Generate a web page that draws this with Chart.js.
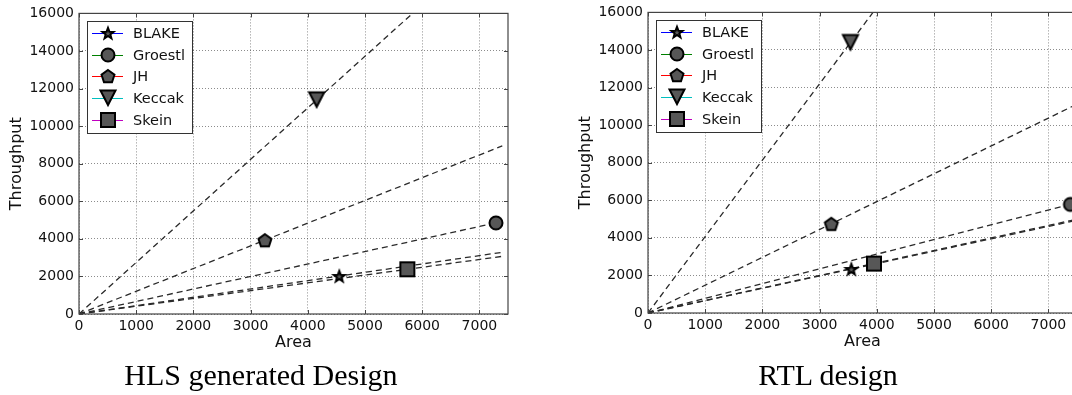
<!DOCTYPE html>
<html>
<head>
<meta charset="utf-8">
<script src="https://cdn.jsdelivr.net/npm/chart.js"></script>
<style>
  html, body { margin: 0; padding: 0; background: #fff; overflow: hidden; }
  #wrap { position: relative; width: 1072px; height: 395px; overflow: hidden; }
  canvas { position: absolute; }
  #hls-chart { left: 0; top: 0; }
  #rtl-chart { left: 569px; top: -1px; }
  .caption { position: absolute; top: 360px; width: 400px; text-align: center;
             font-family: "Liberation Serif", serif; font-size: 30px; line-height: 30px; color: #000; }
</style>
</head>
<body>
<div id="wrap">
  <canvas id="hls-chart" width="522" height="395"></canvas>
  <canvas id="rtl-chart" width="522" height="395"></canvas>
  <div class="caption" style="left:61px">HLS generated Design</div>
  <div class="caption" style="left:628px">RTL design</div>
</div>

<script>
// hash cores, in legend order
var hashNames = ['BLAKE', 'Groestl', 'JH', 'Keccak', 'Skein'];
var markerShapes = ['star', 'circle', 'pentagon', 'triangleDown', 'square'];
var legendColors = ['#0000ff', '#008000', '#ff0000', '#00bfbf', '#bf00bf'];

// HLS generated design
var hlsArea = [4550, 7290, 3250, 4155, 5740];
var hlsThroughput = [2020, 4850, 3930, 11400, 2380];

// RTL design
var rtlArea = [3555, 7385, 3205, 3540, 3950];
var rtlThroughput = [2340, 5780, 4750, 14400, 2630];

// axes
var areaTicks = [0, 1000, 2000, 3000, 4000, 5000, 6000, 7000];
var throughputTicks = [0, 2000, 4000, 6000, 8000, 10000, 12000, 14000, 16000];
var areaMax = 7500;
var throughputMax = 16000;
var hlsLineEnd = 7400;
var rtlLineEnd = 7500;

var tickFont = { family: 'DejaVu Sans', size: 14 };
var labelFont = { family: 'DejaVu Sans', size: 16 };

function makeMarker(shape) {
  var c = document.createElement('canvas');
  c.width = 22;
  c.height = 22;
  var g = c.getContext('2d');
  g.translate(11, 11);
  g.beginPath();
  if (shape == 'circle') {
    g.arc(0, 0, 6.5, 0, 2 * Math.PI);
  } else if (shape == 'square') {
    g.rect(-7, -7, 14, 14);
  } else if (shape == 'triangleDown') {
    g.moveTo(-7.5, -7.5);
    g.lineTo(7.5, -7.5);
    g.lineTo(0, 7);
    g.closePath();
  } else {
    // star and pentagon, point up
    var outer = shape == 'star' ? 5.8 : 6.8;
    var inner = shape == 'star' ? 2.4 : 0;
    var n = shape == 'star' ? 10 : 5;
    for (var k = 0; k < n; k++) {
      var r = (shape == 'star' && k % 2 == 1) ? inner : outer;
      var a = -Math.PI / 2 + k * 2 * Math.PI / n;
      var px = r * Math.cos(a), py = r * Math.sin(a) + (shape == 'pentagon' ? 0.8 : 0.6);
      if (k == 0) g.moveTo(px, py); else g.lineTo(px, py);
    }
    g.closePath();
  }
  g.fillStyle = '#575757';
  g.fill();
  g.lineWidth = 2;
  g.strokeStyle = '#000';
  g.stroke();
  return c;
}

var markers = markerShapes.map(makeMarker);

// frame with inward ticks, like the matplotlib axes box
var framePlugin = {
  id: 'frame',
  afterDatasetsDraw: function(chart) {
    var a = chart.chartArea;
    var ctx = chart.ctx;
    ctx.save();
    ctx.strokeStyle = '#444';
    ctx.lineWidth = 1.2;
    ctx.strokeRect(a.left, a.top, a.right - a.left, a.bottom - a.top);
    ctx.beginPath();
    chart.scales.x.ticks.forEach(function(t) {
      var px = Math.round(chart.scales.x.getPixelForValue(t.value)) + 0.5;
      ctx.moveTo(px, a.bottom); ctx.lineTo(px, a.bottom - 4);
      ctx.moveTo(px, a.top); ctx.lineTo(px, a.top + 4);
    });
    chart.scales.y.ticks.forEach(function(t) {
      var py = Math.round(chart.scales.y.getPixelForValue(t.value)) + 0.5;
      ctx.moveTo(a.left, py); ctx.lineTo(a.left + 4, py);
      ctx.moveTo(a.right, py); ctx.lineTo(a.right - 4, py);
    });
    ctx.lineWidth = 1;
    ctx.stroke();
    ctx.restore();
  }
};

// boxed legend in the upper left corner of the plot
var legendPlugin = {
  id: 'boxLegend',
  afterDraw: function(chart) {
    var a = chart.chartArea;
    var ctx = chart.ctx;
    var x0 = Math.round(a.left) + 8, y0 = Math.round(a.top) + 8;
    ctx.save();
    ctx.fillStyle = '#fff';
    ctx.fillRect(x0, y0, 106, 112);
    ctx.strokeStyle = '#333';
    ctx.lineWidth = 1;
    ctx.strokeRect(x0 + 0.5, y0 + 0.5, 105, 112);
    ctx.font = '14.5px "DejaVu Sans"';
    ctx.textBaseline = 'middle';
    for (var i = 0; i < hashNames.length; i++) {
      var y = Math.round(y0 + 12 + i * 21.7);
      ctx.strokeStyle = legendColors[i];
      ctx.beginPath();
      ctx.moveTo(x0 + 5, y + 0.5);
      ctx.lineTo(x0 + 36, y + 0.5);
      ctx.stroke();
      ctx.drawImage(markers[i], x0 + 21 - 11, y - 11);
      ctx.fillStyle = '#111';
      ctx.fillText(hashNames[i], x0 + 46, y + 1);
    }
    ctx.restore();
  }
};

function fixedTicks(values) {
  return function(scale) {
    scale.ticks = values.map(function(v) { return { value: v }; });
  };
}

function new_AreaChart(canvasId, areas, throughputs, lineEnd) {
  var datasets = [];

  //dashed line from the origin through every design point
  for (var i = 0; i < hashNames.length; i++) {
    var slope = throughputs[i] / areas[i];
    var endX = Math.min(lineEnd, throughputMax / slope);
    datasets.push({
      type: 'line',
      label: hashNames[i] + ' trend',
      data: [{ x: 0, y: 0 }, { x: endX, y: endX * slope }],
      borderColor: '#2a2a2a',
      borderWidth: 1.3,
      borderDash: [6, 4],
      pointRadius: 0,
      fill: false,
      order: 2
    });
  }

  //the design points
  for (var j = 0; j < hashNames.length; j++) {
    datasets.push({
      label: hashNames[j],
      data: [{ x: areas[j], y: throughputs[j] }],
      pointStyle: markers[j],
      pointRadius: 8,
      clip: false,
      order: 1
    });
  }

  var ctx = document.getElementById(canvasId).getContext('2d');
  return new Chart(ctx, {
    type: 'scatter',
    data: { datasets: datasets },
    plugins: [framePlugin, legendPlugin],
    options: {
      responsive: false,
      animation: false,
      events: [],
      layout: { padding: { top: 13, right: 14, bottom: 43, left: 0 } },
      plugins: { legend: { display: false }, tooltip: { enabled: false } },
      scales: {
        x: {
          type: 'linear',
          min: 0,
          max: areaMax,
          afterBuildTicks: fixedTicks(areaTicks),
          afterFit: function(scale) { scale.height = 38; },
          title: { display: true, text: 'Area', font: labelFont, color: '#111', padding: { top: 0, bottom: 0 } },
          ticks: {
            padding: 4, maxRotation: 0, autoSkip: false,
            font: tickFont, color: '#111',
            callback: function(v) { return String(v); }
          },
          grid: { color: 'rgba(0,0,0,0.45)', lineWidth: 1, drawTicks: false },
          border: { display: false, dash: [1, 2] }
        },
        y: {
          type: 'linear',
          min: 0,
          max: throughputMax,
          afterBuildTicks: fixedTicks(throughputTicks),
          afterFit: function(scale) { scale.width = 79; },
          title: { display: true, text: 'Throughput', font: labelFont, color: '#111', padding: { top: 7, bottom: 0 } },
          ticks: {
            padding: 5, autoSkip: false,
            font: tickFont, color: '#111',
            callback: function(v) { return String(v); }
          },
          grid: { color: 'rgba(0,0,0,0.45)', lineWidth: 1, drawTicks: false },
          border: { display: false, dash: [1, 2] }
        }
      }
    }
  });
}

new_AreaChart('hls-chart', hlsArea, hlsThroughput, hlsLineEnd);
new_AreaChart('rtl-chart', rtlArea, rtlThroughput, rtlLineEnd);
</script>
</body>
</html>
